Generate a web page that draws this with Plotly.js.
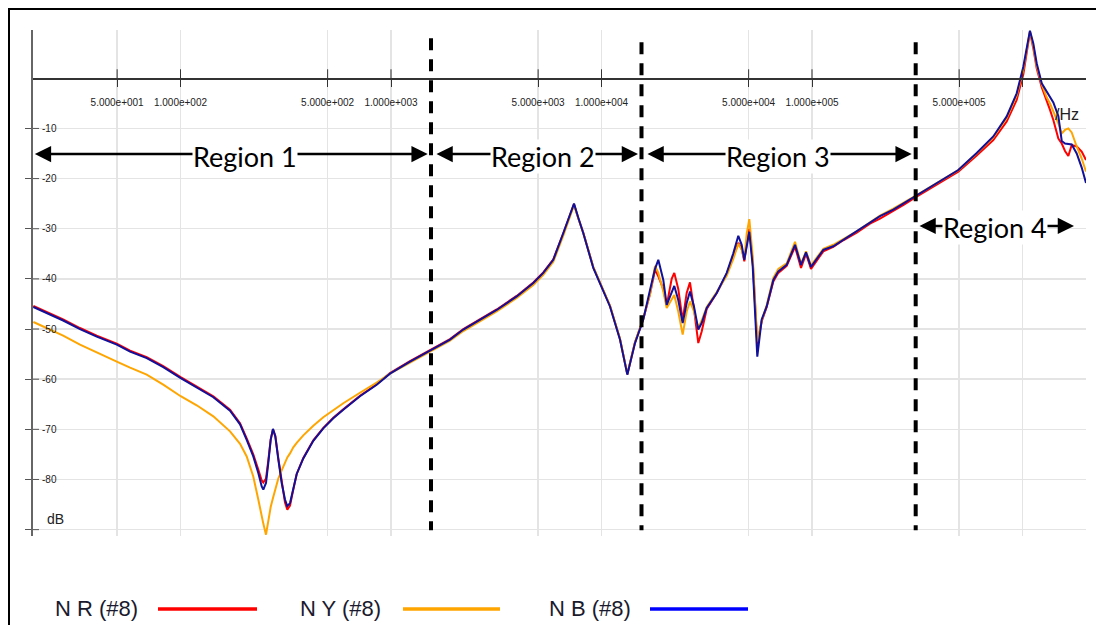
<!DOCTYPE html>
<html><head><meta charset="utf-8">
<script src="https://cdn.plot.ly/plotly-3.0.1.min.js"></script>
<style>html,body{margin:0;padding:0;background:#fff;}#chart{width:1096px;height:625px;}</style>
</head><body><div id="chart"></div>
<script>
// ---- data (frequency in Hz, levels in dB) ----
const freq = [20.0,27.7,33.3,40.0,49.8,57.6,69.1,82.8,100.2,119.4,143.2,171.9,191.8,206.3,221.7,234.2,243.1,247.4,254.8,261.3,
  268.2,275.0,282.1,291.5,302.5,313.6,321.7,331.3,343.5,356.5,383.2,427.5,476.9,531.9,593.4,712.3,855.2,989,1231,1532,
  1907,2206,3178,3955,4742,5290,5902,6583,6955,7403,7759,8196,9142,10975,12240,13263,14425,15800,17002,17960,
  18616,19660,20404,21550,22170,23160,24300,25390,26320,27500,28830,29920,31610,35270,39340,42280,44660,46340,47690,48960,
  50380,52280,53610,54970,57680,60930,65510,69170,75830,83040,88680,93650,98900,103300,113200,126200,140800,163100,188600,210400,
  243400,273500,308500,391200,495500,606000,726500,841400,938500,1009000,1047000,1085000,1125000,1168000,1234000,1303000,1351000,1401000,1480000,1536000,
  1592000,1651000,1713000,1809000,1911000,2003000];
const nR = [-45.4,-48.1,-49.8,-51.3,-52.9,-54.3,-55.6,-57.4,-59.6,-61.4,-63.4,-66.1,-68.8,-71.8,-75.0,-78.0,-80.2,-80.6,-79.8,-76.2,
  -72.0,-70.0,-71.3,-75.8,-80.8,-84.6,-86.0,-85.2,-82.0,-78.9,-75.7,-72.2,-69.7,-67.7,-66.0,-63.3,-61.0,-58.8,-56.4,-54.2,
  -52.0,-50.0,-46.1,-43.4,-40.7,-38.7,-36.1,-30.9,-28.3,-25.1,-27.9,-30.8,-37.7,-45.4,-52.0,-59.0,-52.7,-48.0,-43.0,-38.2,
  -39.5,-42.0,-45.3,-40.0,-38.8,-42.0,-48.3,-42.8,-40.7,-46.0,-52.8,-50.5,-46.0,-42.8,-39.0,-35.5,-32.8,-34.0,-36.5,-33.0,
  -30.0,-36.5,-45.5,-53.0,-48.5,-45.6,-40.5,-38.8,-37.4,-33.6,-37.8,-35.0,-38.0,-36.8,-34.5,-33.6,-32.3,-30.8,-29.0,-28.0,
  -26.5,-25.2,-23.8,-21.2,-18.6,-15.4,-12.3,-8.6,-4.3,0.8,5.3,9.2,6.0,2.0,-1.8,-4.3,-6.3,-8.3,-12.0,-13.0,
  -14.5,-15.5,-13.3,-13.6,-14.6,-16.3];
const nY = [-48.6,-51.3,-53.1,-54.7,-56.5,-57.7,-59.1,-61.1,-63.4,-65.2,-67.4,-70.4,-72.9,-75.4,-79.4,-84.0,-87.5,-88.8,-91.0,-88.0,
  -85.5,-83.7,-81.8,-79.8,-78.2,-76.5,-75.6,-74.8,-73.6,-72.7,-71.2,-69.3,-67.6,-66.2,-64.8,-62.7,-60.7,-58.9,-56.7,-54.5,
  -52.3,-50.4,-46.5,-43.8,-41.2,-39.2,-36.6,-31.4,-28.7,-25.3,-27.9,-30.9,-37.6,-45.3,-51.9,-59.0,-52.6,-47.8,-43.0,-37.4,
  -38.8,-42.5,-45.8,-44.0,-43.2,-46.5,-51.1,-46.5,-44.5,-46.5,-49.8,-48.3,-45.6,-42.6,-39.4,-36.0,-33.0,-34.2,-36.0,-31.0,
  -28.1,-35.5,-45.0,-52.5,-48.3,-45.2,-39.8,-38.0,-36.9,-32.6,-37.0,-34.5,-37.3,-36.2,-34.0,-33.2,-32.0,-30.5,-28.7,-27.4,
  -26.0,-24.8,-23.5,-20.9,-18.3,-15.0,-11.8,-7.9,-3.4,1.8,6.0,9.4,6.5,2.5,-1.2,-3.8,-5.0,-6.5,-9.0,-11.0,
  -10.3,-10.0,-10.8,-13.6,-16.0,-18.6];
const nB = [-45.6,-48.3,-50.0,-51.5,-53.1,-54.5,-55.8,-57.6,-59.8,-61.6,-63.6,-66.3,-69.0,-72.1,-75.4,-78.7,-81.4,-82.0,-80.7,-76.7,
  -72.1,-69.9,-71.4,-76.0,-80.7,-84.0,-85.3,-84.7,-81.8,-78.9,-75.8,-72.3,-69.8,-67.8,-66.1,-63.4,-61.1,-58.9,-56.5,-54.3,
  -52.1,-50.1,-46.2,-43.5,-40.8,-38.8,-36.2,-30.9,-28.2,-25.0,-27.8,-30.9,-37.8,-45.5,-52.1,-59.1,-52.8,-48.1,-42.2,-38.0,
  -36.2,-40.2,-45.2,-42.5,-41.4,-44.2,-48.8,-44.8,-42.5,-45.5,-50.1,-48.8,-45.8,-42.8,-38.8,-34.9,-31.4,-33.2,-36.2,-33.5,
  -30.6,-37.5,-46.8,-55.5,-48.1,-45.5,-40.2,-38.5,-37.2,-33.2,-37.2,-34.7,-37.6,-36.5,-34.2,-33.5,-32.2,-30.6,-28.8,-27.5,
  -26.2,-24.9,-23.6,-20.9,-18.3,-14.9,-11.6,-7.6,-3.0,2.3,6.3,9.5,7.0,3.0,-1.0,-2.6,-3.7,-4.8,-7.5,-12.5,
  -13.0,-13.1,-13.2,-15.0,-17.8,-20.9];
const seriesNames = ['N R (#8)', 'N Y (#8)', 'N B (#8)'];
const xTickVals = [50, 100, 500, 1000, 5000, 10000, 50000, 100000, 500000, 1000000];
const xTickText = ['5.000e+001','1.000e+002','5.000e+002','1.000e+003','5.000e+003','1.000e+004','5.000e+004','1.000e+005','5.000e+005',''];
const yTickVals = [-10, -20, -30, -40, -50, -60, -70, -80, -90];
const yTickText = ['-10','-20','-30','-40','-50','-60','-70','-80',''];
const regionBounds = [1549, 15490, 310900];
const regionLabels = ['Region 1', 'Region 2', 'Region 3', 'Region 4'];
const regionArrowStart = [20.0, 1618, 16270, 318900];
const regionArrowEnd = [1494, 14910, 297500, 1757000];
const regionLabelFreq = [202.5, 5274, 68940, 737000];
const regionArrowDb = [-15.1, -15.1, -15.1, -29.45];

// ---- geometry helpers ----
const W = 1096, H = 625, ML = 33, MR = 10, MT = 30, MB = 89;
const PW = W - ML - MR, PH = H - MT - MB;
const pxX = p => (p - ML) / PW;
const pxY = p => (H - MB - p) / PH;
const yRange = [-91.27, 9.63];
const dbPerPx = (yRange[1] - yRange[0]) / PH;
const xRange = [Math.log10(19.92), Math.log10(2003000)];
const colors = ['#ff0000', '#ffa500', '#10109a'];
const legendColors = ['#ff0000', '#ffa500', '#0000ff'];
const smallFont = {family: '"Liberation Sans", Arial, sans-serif', size: 10, color: '#222'};

const traces = [nR, nY, nB].map((v, i) => ({
  type: 'scatter', mode: 'lines', x: freq, y: v, name: seriesNames[i],
  line: {color: colors[i], width: 2}, showlegend: false, hoverinfo: 'skip'
}));

const shapes = [];
// upper halves of x ticks (crossing the axis line)
xTickVals.forEach(v => shapes.push({type: 'line', xref: 'x', yref: 'y',
  x0: v, x1: v, y0: 0, y1: 9 * dbPerPx, line: {color: '#333', width: 1}}));
// right halves of y ticks
yTickVals.forEach(v => shapes.push({type: 'line', xref: 'paper', yref: 'y',
  x0: 0, x1: 6 / PW, y0: v, y1: v, line: {color: '#555', width: 1}}));
// dashed region boundaries
const dashTops = [8.0, 7.2, 7.2];
regionBounds.forEach((b, i) => shapes.push({type: 'line', xref: 'x', yref: 'y', x0: b, x1: b, y0: dashTops[i], y1: -90.1,
  line: {color: '#000', width: 4, dash: '12px,9px'}}));
// outer frame
shapes.push({type: 'rect', xref: 'paper', yref: 'paper', x0: pxX(9), x1: pxX(1200), y0: pxY(800), y1: pxY(9),
  line: {color: '#000', width: 2}, fillcolor: 'rgba(0,0,0,0)'});
// legend lines
const legLineX = [[158, 257], [403, 500], [650, 748]];
legLineX.forEach((p, i) => shapes.push({type: 'line', xref: 'paper', yref: 'paper', x0: pxX(p[0]), x1: pxX(p[1]),
  y0: pxY(609), y1: pxY(609), line: {color: legendColors[i], width: 3.5}}));

const annotations = [];
regionLabels.forEach((t, i) => {
  annotations.push({xref: 'x', yref: 'y', axref: 'x', ayref: 'y',
    x: Math.log10(regionArrowEnd[i]), y: regionArrowDb[i], ax: Math.log10(regionArrowStart[i]), ay: regionArrowDb[i],
    text: '', showarrow: true, arrowside: 'end+start', arrowhead: 2, startarrowhead: 2, arrowsize: 1.3, startarrowsize: 1.3,
    arrowwidth: 2.5, arrowcolor: '#000', standoff: 0, startstandoff: 0});
});
regionLabels.forEach((t, i) => {
  annotations.push({xref: 'x', yref: 'y', x: Math.log10(regionLabelFreq[i]), y: regionArrowDb[i], yshift: -2,
    text: t, showarrow: false, bgcolor: '#fff', borderpad: 0, xanchor: 'center', yanchor: 'middle',
    font: {family: 'Lato, "Open Sans", sans-serif', size: 27, color: '#000'}});
});
annotations.push({xref: 'paper', yref: 'paper', x: pxX(45), y: pxY(519), xanchor: 'left', yanchor: 'middle', showarrow: false,
  text: 'dB', font: {family: '"Liberation Sans", Arial, sans-serif', size: 14, color: '#222'}});
annotations.push({xref: 'paper', yref: 'paper', x: pxX(1053), y: pxY(114), xanchor: 'left', yanchor: 'middle', showarrow: false,
  text: '/Hz', font: {family: '"Liberation Sans", Arial, sans-serif', size: 16, color: '#222'}});
const legTextX = [53, 298, 547];
seriesNames.forEach((n, i) => annotations.push({xref: 'paper', yref: 'paper', x: pxX(legTextX[i]), y: pxY(608),
  xanchor: 'left', yanchor: 'middle', showarrow: false, text: n,
  font: {family: '"Liberation Sans", Arial, sans-serif', size: 22, color: '#1a1a2e'}}));

const layout = {
  width: W, height: H, margin: {l: ML, r: MR, t: MT, b: MB, pad: 0},
  paper_bgcolor: '#fff', plot_bgcolor: '#fff', showlegend: false,
  xaxis: {type: 'log', range: xRange, tickmode: 'array', tickvals: xTickVals, ticktext: xTickText,
    showgrid: true, gridcolor: '#e4e4e4', gridwidth: 1.5, zeroline: false,
    showline: true, linecolor: '#333', linewidth: 1.5,
    anchor: 'free', position: (0 - yRange[0]) / (yRange[1] - yRange[0]),
    ticks: 'outside', ticklen: 7, tickcolor: '#333', tickwidth: 1, ticklabelstandoff: 7, tickangle: 0,
    tickfont: smallFont, fixedrange: true},
  yaxis: {range: yRange, tickmode: 'array', tickvals: yTickVals, ticktext: yTickText,
    showgrid: true, gridcolor: '#e4e4e4', gridwidth: 1.5, zeroline: false,
    showline: true, linecolor: '#666', linewidth: 2,
    ticks: 'outside', ticklen: 6, tickcolor: '#555', tickwidth: 1, ticklabelposition: 'inside', ticklabelstandoff: 8,
    tickfont: smallFont, fixedrange: true},
  shapes: shapes, annotations: annotations
};
Plotly.newPlot('chart', traces, layout, {displayModeBar: false, staticPlot: true});
</script></body></html>
